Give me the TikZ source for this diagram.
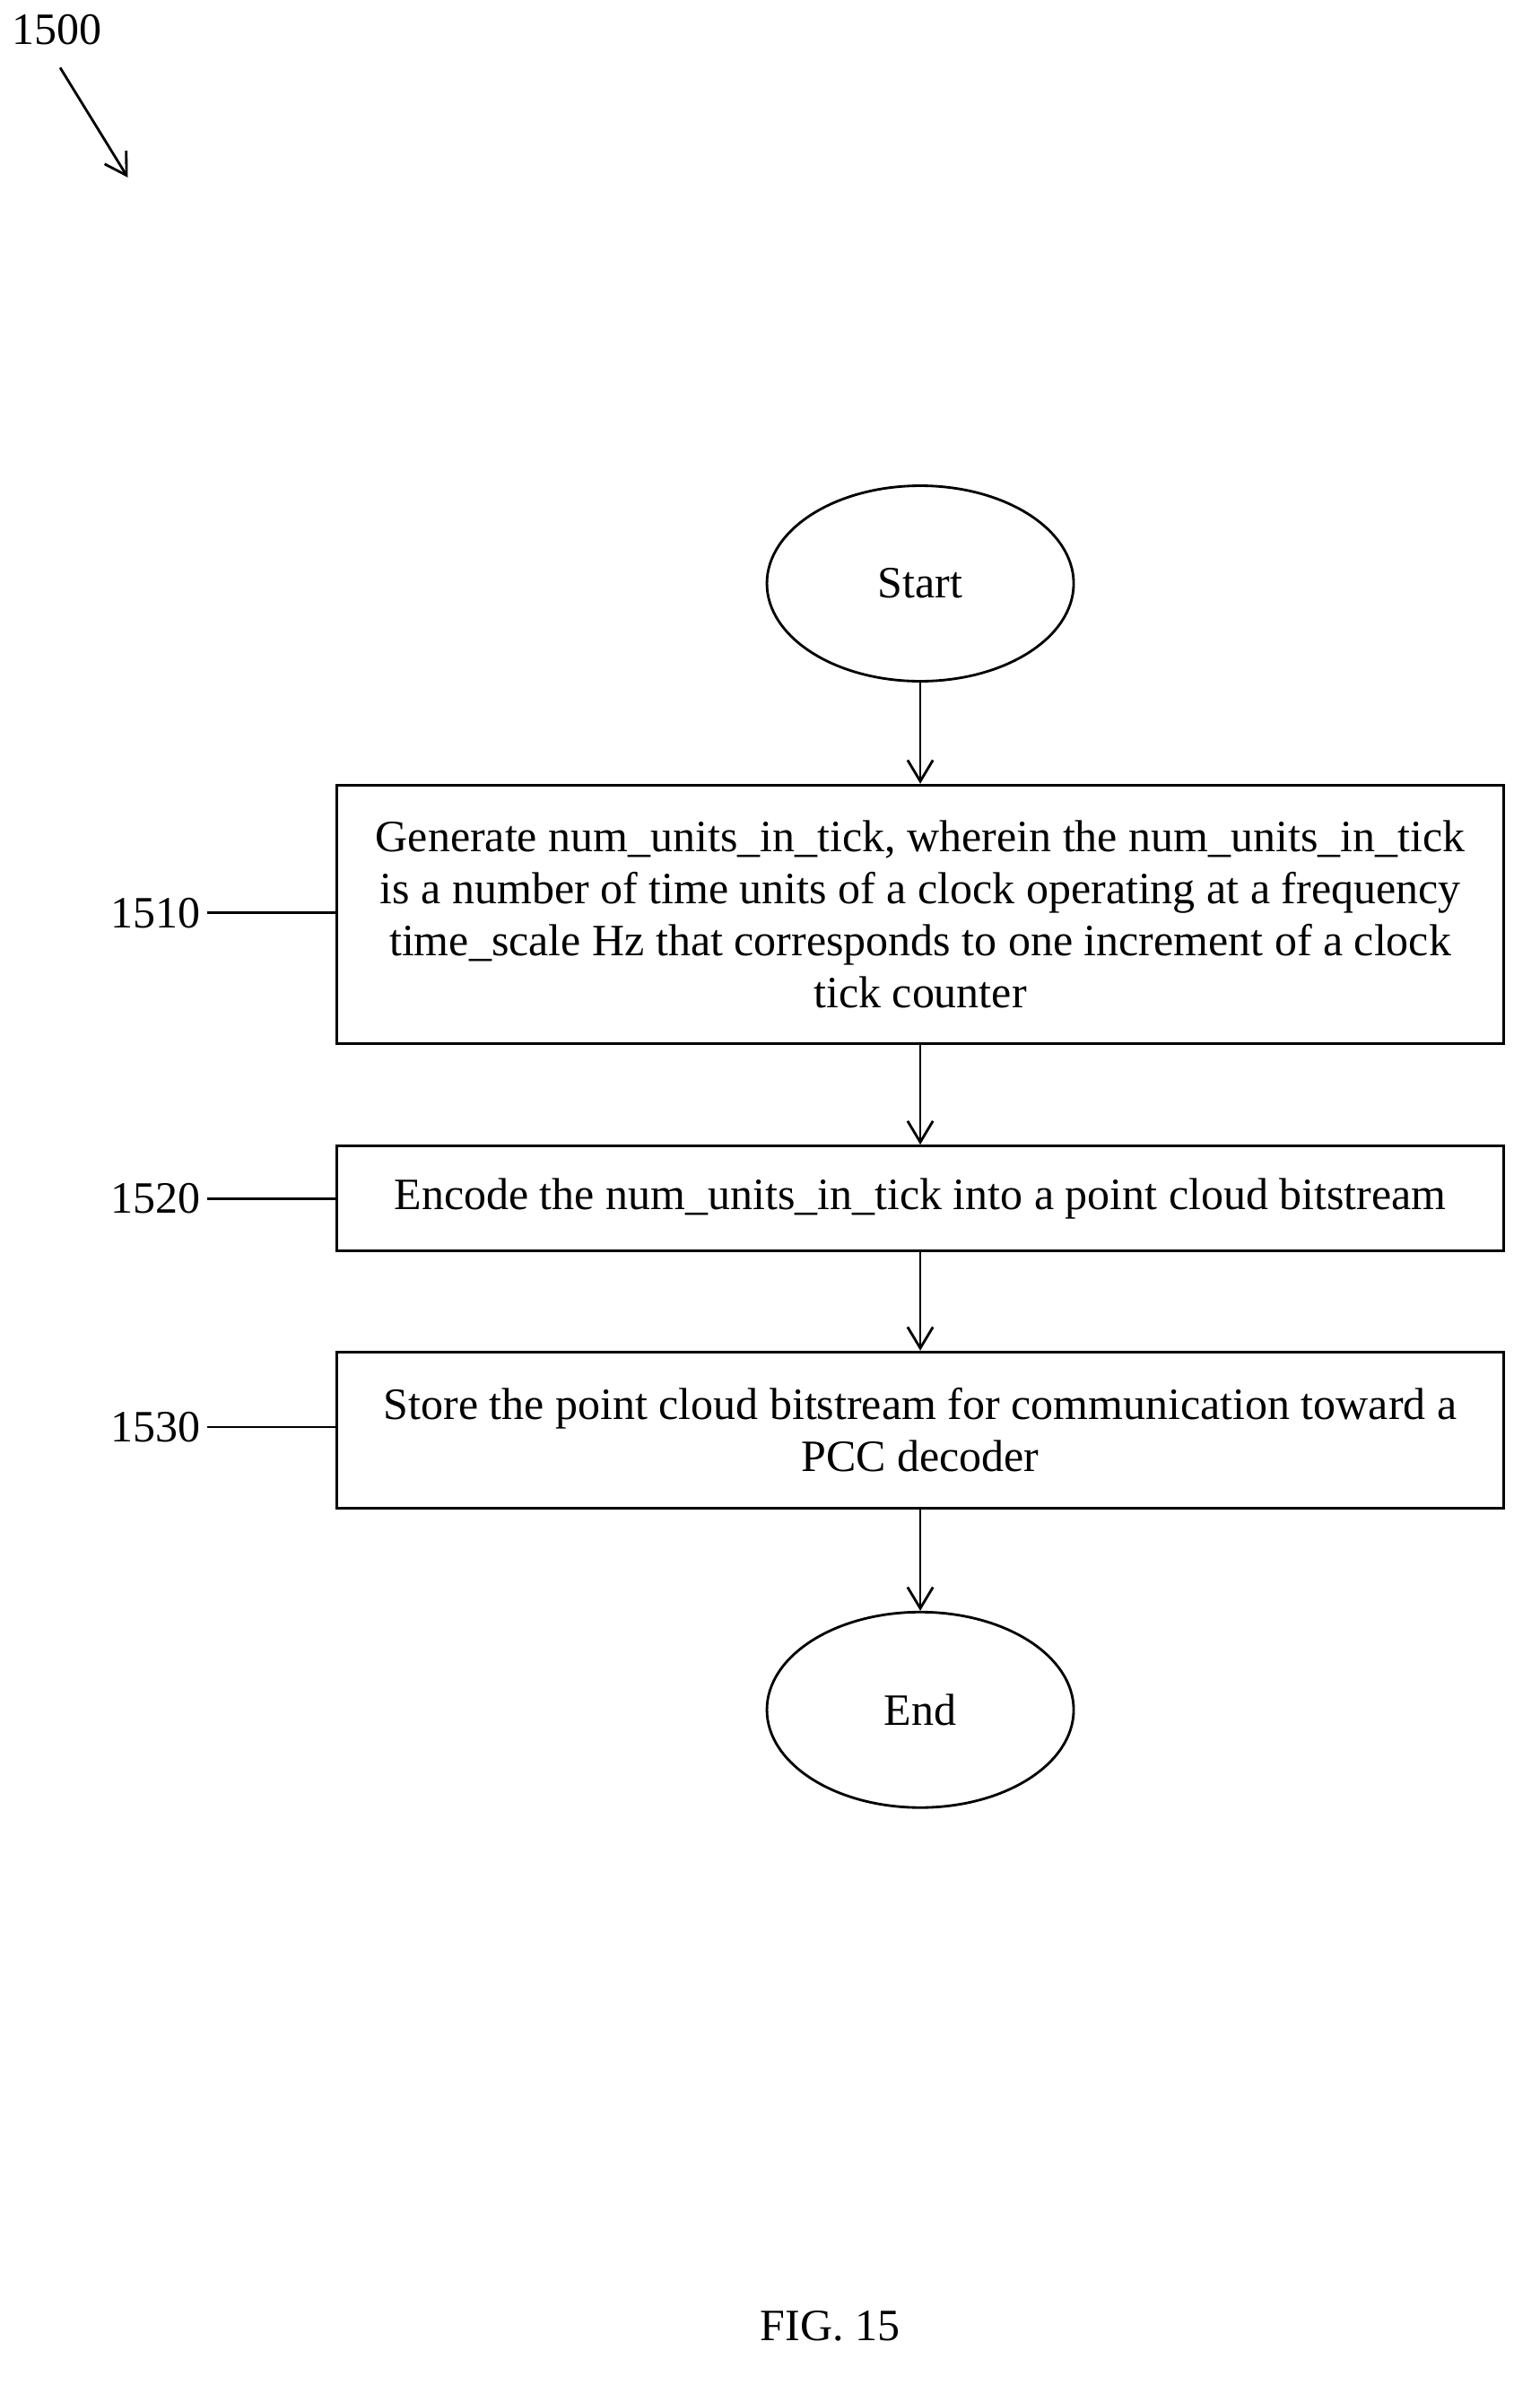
\documentclass[tikz,border=0pt]{standalone}
\usepackage{fontspec}
\setmainfont{Liberation Serif}
\usetikzlibrary{shapes.geometric,arrows.meta}
\begin{document}
\begin{tikzpicture}[x=0.025cm,y=-0.025cm,
  every node/.style={font=\fontsize{21.2}{24.5}\selectfont},
  box/.style={draw,line width=1.2pt,inner sep=0pt,align=center},
  oval/.style={draw,ellipse,line width=1.2pt,minimum width=204*0.025cm,minimum height=130*0.025cm},
  arr/.style={-{Straight Barb[length=10pt,width=12pt]},line width=1.2pt},
  lead/.style={line width=1.2pt}]
\useasboundingbox (0,0) rectangle (1024,1586);
\node[oval] (start) at (612,388) {Start};
\node[box,minimum width=776*0.025cm,minimum height=172*0.025cm] (b1) at (612,608)
 {Generate num\_units\_in\_tick, wherein the num\_units\_in\_tick\\ is a number of time units of a clock operating at a frequency\\ time\_scale Hz that corresponds to one increment of a clock\\ tick counter};
\node[box,minimum width=776*0.025cm,minimum height=70*0.025cm] (b2) at (612,797)
 {Encode the num\_units\_in\_tick into a point cloud bitstream};
\node[box,minimum width=776*0.025cm,minimum height=104*0.025cm] (b3) at (612,951)
 {Store the point cloud bitstream for communication toward a\\ PCC decoder};
\node[oval] (end) at (612,1137) {End};
\draw[arr] (start) -- (b1);
\draw[arr] (b1) -- (b2);
\draw[arr] (b2) -- (b3);
\draw[arr] (b3) -- (end);
\node[anchor=east] (l1) at (138,607) {1510};
\node[anchor=east] (l2) at (138,797) {1520};
\node[anchor=east] (l3) at (138,949) {1530};
\draw[lead] (l1.east) -- (b1.west|-l1.east);
\draw[lead] (l2.east) -- (b2.west|-l2.east);
\draw[lead] (l3.east) -- (b3.west|-l3.east);
\node (fig) at (552,1547) {FIG. 15};
\node (n1500) at (38,20) {1500};
\coordinate (a0) at (40,45);
\coordinate (a1) at (85,118);
\draw[arr] (a0) -- (a1);
\end{tikzpicture}
\end{document}
